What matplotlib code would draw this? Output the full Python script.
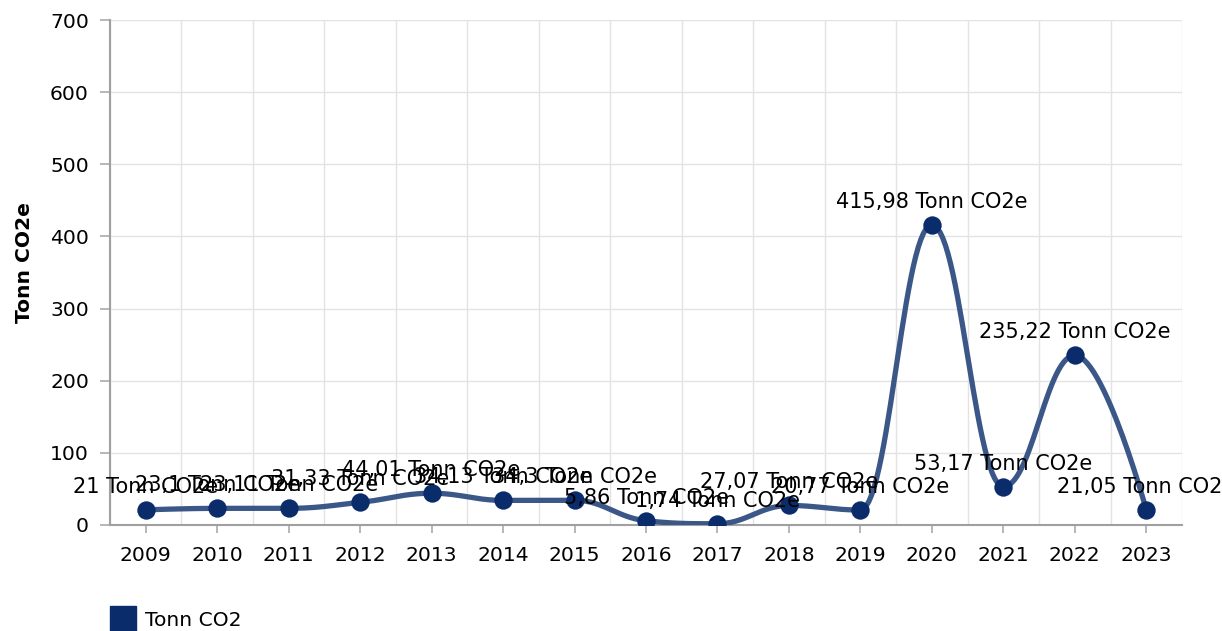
import numpy as np
import matplotlib
matplotlib.use("Agg")
import matplotlib.pyplot as plt
from matplotlib.patches import Rectangle

# chart data
years = ["2009", "2010", "2011", "2012", "2013", "2014", "2015", "2016",
         "2017", "2018", "2019", "2020", "2021", "2022", "2023"]
values = [21, 23.1, 23.11, 31.33, 44.01, 34.13, 34.3, 5.86,
          1.74, 27.07, 20.77, 415.98, 53.17, 235.22, 21.05]
labels = ["21", "23,1", "23,11", "31,33", "44,01", "34,13", "34,3", "5,86",
          "1,74", "27,07", "20,77", "415,98", "53,17", "235,22", "21,05"]
yticks = [0, 100, 200, 300, 400, 500, 600, 700]

LINE = "#3b5788"
DOT = "#0b2c6b"


def spline_path(xs, ys, smoothing=1.5, n=30):
    # bezier spline through the points (same style as the web chart)
    m = len(xs)
    lc = [None] * m
    rc = [None] * m
    for i in range(m):
        x, y = xs[i], ys[i]
        if i == 0 or i == m - 1:
            lc[i] = (x, y)
            rc[i] = (x, y)
            continue
        lx, ly = xs[i - 1], ys[i - 1]
        nx, ny = xs[i + 1], ys[i + 1]
        d = smoothing + 1
        lcx = (smoothing * x + lx) / d
        lcy = (smoothing * y + ly) / d
        rcx = (smoothing * x + nx) / d
        rcy = (smoothing * y + ny) / d
        corr = (rcy - lcy) * (rcx - x) / (rcx - lcx) + y - rcy
        lcy += corr
        rcy += corr
        if lcy > ly and lcy > y:
            lcy = max(ly, y)
            rcy = 2 * y - lcy
        elif lcy < ly and lcy < y:
            lcy = min(ly, y)
            rcy = 2 * y - lcy
        if rcy > ny and rcy > y:
            rcy = max(ny, y)
            lcy = 2 * y - rcy
        elif rcy < ny and rcy < y:
            rcy = min(ny, y)
            lcy = 2 * y - rcy
        lc[i] = (lcx, lcy)
        rc[i] = (rcx, rcy)
    px, py = [], []
    t = np.linspace(0, 1, n)
    for i in range(1, m):
        p0 = (xs[i - 1], ys[i - 1])
        p1 = rc[i - 1]
        p2 = lc[i]
        p3 = (xs[i], ys[i])
        bx = ((1 - t) ** 3 * p0[0] + 3 * (1 - t) ** 2 * t * p1[0]
              + 3 * (1 - t) * t ** 2 * p2[0] + t ** 3 * p3[0])
        by = ((1 - t) ** 3 * p0[1] + 3 * (1 - t) ** 2 * t * p1[1]
              + 3 * (1 - t) * t ** 2 * p2[1] + t ** 3 * p3[1])
        px.extend(bx)
        py.extend(by)
    return np.array(px), np.array(py)


fig = plt.figure(figsize=(12.22, 6.31), dpi=100)
ax = fig.add_axes([110 / 1222, 1 - 525 / 631, 1072 / 1222, 505 / 631])

x = np.arange(len(years))
sx, sy = spline_path(list(x), values)
ax.plot(sx, sy, color=LINE, lw=3.8, solid_capstyle="round", zorder=3)
ax.scatter(x, values, s=175, color=DOT, zorder=4, linewidths=0)

for xi, v, lab in zip(x, values, labels):
    ax.annotate(f"{lab} Tonn CO2e", (xi, v), xytext=(0, 23),
                textcoords="offset pixels", ha="center", va="center",
                fontsize=15, color="black", zorder=5, annotation_clip=False)

ax.set_xlim(-0.5, len(years) - 0.5)
ax.set_ylim(0, 700)
ax.set_yticks(yticks)
ax.set_xticks(x)
ax.set_xticklabels(years)
ax.set_xticks(np.arange(-0.5, len(years)), minor=True)
ax.grid(False)
ax.grid(True, which="minor", axis="x", color="#e3e3e3", lw=1)
ax.grid(True, which="major", axis="y", color="#e3e3e3", lw=1)
ax.tick_params(axis="x", which="minor", length=0)
ax.tick_params(axis="x", which="major", length=5.8, width=1.2, color="#aaaaaa",
               labelsize=14.6, pad=9)
ax.tick_params(axis="y", length=7.2, width=1.2, color="#aaaaaa",
               labelsize=14.6, pad=8)
for s in ["top", "right"]:
    ax.spines[s].set_visible(False)
for s in ["left", "bottom"]:
    ax.spines[s].set_color("#a0a0a0")
    ax.spines[s].set_linewidth(1.5)
ax.set_axisbelow(True)

ax.set_ylabel("Tonn CO2e", fontsize=14.6, fontweight="bold")
ax.yaxis.set_label_coords(-0.071, 0.52)

fig.patches.append(Rectangle((110 / 1222, 0), 26 / 1222, 25 / 631,
                             transform=fig.transFigure, color=DOT))
fig.text(145 / 1222, 11 / 631, "Tonn CO2", fontsize=14.6, va="center", ha="left")

fig.savefig("out.png", dpi=100)
